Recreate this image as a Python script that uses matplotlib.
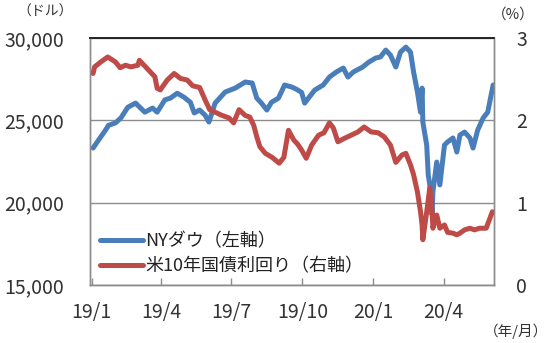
import pandas as pd
import matplotlib
matplotlib.use("Agg")
import matplotlib.pyplot as plt

plt.rcParams['font.family'] = ['Noto Sans CJK JP', 'DejaVu Sans']

# --------------------------------------------------------------
# Data
# --------------------------------------------------------------

dow_dates = [
    "2019-01-03", "2019-01-10", "2019-01-19", "2019-01-23", "2019-02-01",
    "2019-02-08", "2019-02-17", "2019-02-27", "2019-03-11", "2019-03-21",
    "2019-03-27", "2019-04-06", "2019-04-13", "2019-04-22", "2019-05-01",
    "2019-05-09", "2019-05-14", "2019-05-21", "2019-05-28", "2019-06-02",
    "2019-06-10", "2019-06-23", "2019-07-06", "2019-07-19", "2019-07-28",
    "2019-08-03", "2019-08-09", "2019-08-16", "2019-08-22", "2019-08-31",
    "2019-09-08", "2019-09-17", "2019-09-23", "2019-09-30", "2019-10-04",
    "2019-10-10", "2019-10-17", "2019-10-28", "2019-11-05", "2019-11-14",
    "2019-11-23", "2019-11-29", "2019-12-06", "2019-12-18", "2019-12-26",
    "2020-01-04", "2020-01-10", "2020-01-17", "2020-01-23", "2020-01-30",
    "2020-02-05", "2020-02-12", "2020-02-18", "2020-02-22", "2020-02-27",
    "2020-03-02", "2020-03-04", "2020-03-05", "2020-03-10", "2020-03-12",
    "2020-03-14", "2020-03-17", "2020-03-18", "2020-03-23", "2020-03-27",
    "2020-04-02", "2020-04-06", "2020-04-13", "2020-04-18", "2020-04-22",
    "2020-04-28", "2020-05-05", "2020-05-09", "2020-05-15", "2020-05-22",
    "2020-05-28", "2020-06-04",
]
dow_values = [
    23320, 23800, 24400, 24700, 24850,
    25150, 25800, 26050, 25500, 25750,
    25500, 26250, 26350, 26650, 26400,
    26100, 25450, 25630, 25320, 24900,
    26050, 26720, 26960, 27330, 27270,
    26350, 26050, 25630, 26100, 26350,
    27150, 27030, 26900, 26700, 26050,
    26420, 26840, 27150, 27630, 27940,
    28180, 27630, 27940, 28240, 28540,
    28790, 28850, 29270, 28970, 28240,
    29150, 29450, 29150, 27940, 26720,
    25500, 26960, 24900, 23500, 21680,
    21080, 19250, 20650, 22470, 21080,
    23500, 23690, 23930, 23080, 24110,
    24290, 23930, 23320, 24410, 25140,
    25500, 27150,
]

yield_dates = [
    "2019-01-03", "2019-01-05", "2019-01-13", "2019-01-22", "2019-02-01",
    "2019-02-07", "2019-02-14", "2019-02-21", "2019-03-02", "2019-03-04",
    "2019-03-12", "2019-03-18", "2019-03-24", "2019-03-27", "2019-03-31",
    "2019-04-09", "2019-04-18", "2019-04-26", "2019-05-05", "2019-05-12",
    "2019-05-21", "2019-05-28", "2019-06-03", "2019-06-10", "2019-06-19",
    "2019-06-28", "2019-07-04", "2019-07-11", "2019-07-19", "2019-07-25",
    "2019-07-30", "2019-08-03", "2019-08-07", "2019-08-14", "2019-08-23",
    "2019-09-01", "2019-09-07", "2019-09-13", "2019-09-20", "2019-09-25",
    "2019-09-30", "2019-10-06", "2019-10-13", "2019-10-22", "2019-10-29",
    "2019-11-05", "2019-11-10", "2019-11-16", "2019-11-24", "2019-12-03",
    "2019-12-12", "2019-12-20", "2019-12-29", "2020-01-07", "2020-01-15",
    "2020-01-23", "2020-01-30", "2020-02-07", "2020-02-12", "2020-02-18",
    "2020-02-22", "2020-02-27", "2020-03-02", "2020-03-04", "2020-03-05",
    "2020-03-10", "2020-03-14", "2020-03-17", "2020-03-18", "2020-03-23",
    "2020-03-27", "2020-04-02", "2020-04-06", "2020-04-13", "2020-04-18",
    "2020-04-22", "2020-04-28", "2020-05-05", "2020-05-11", "2020-05-17",
    "2020-05-26", "2020-06-03",
]
yield_values = [
    2.57, 2.65, 2.71, 2.77, 2.71,
    2.64, 2.67, 2.65, 2.67, 2.73,
    2.65, 2.59, 2.53, 2.39, 2.37,
    2.49, 2.57, 2.51, 2.49, 2.42,
    2.40, 2.25, 2.13, 2.10, 2.06,
    2.03, 1.97, 2.13, 2.06, 2.04,
    1.94, 1.80, 1.68, 1.60, 1.55,
    1.48, 1.55, 1.88, 1.76, 1.71,
    1.64, 1.54, 1.70, 1.82, 1.85,
    1.97, 1.91, 1.74, 1.78, 1.82,
    1.86, 1.92, 1.86, 1.85, 1.80,
    1.70, 1.49, 1.58, 1.60, 1.46,
    1.34, 1.13, 0.89, 0.73, 0.55,
    0.89, 1.18, 0.89, 0.69, 0.85,
    0.69, 0.73, 0.64, 0.63, 0.61,
    0.63, 0.67, 0.69, 0.67, 0.69,
    0.69, 0.89,
]

tick_dates = ["2019-01-01", "2019-04-01", "2019-07-01",
              "2019-10-01", "2020-01-01", "2020-04-01"]
tick_labels = ["19/1", "19/4", "19/7", "19/10", "20/1", "20/4"]

dow = pd.Series(dow_values, index=pd.to_datetime(dow_dates))
yld = pd.Series(yield_values, index=pd.to_datetime(yield_dates))

# --------------------------------------------------------------
# Plot
# --------------------------------------------------------------

blue = "#4A7EBB"
red = "#BE4B48"
grey = "#8C8C8C"
text_col = "#333333"

fig = plt.figure(figsize=(5.5, 3.43), dpi=100)
ax = fig.add_axes([0.1636, 0.169, 0.7344, 0.72])
ax2 = ax.twinx()

l1, = ax.plot(dow.index, dow.values, color=blue, lw=3.6,
              solid_capstyle="round", solid_joinstyle="round",
              label="NYダウ（左軸）")
l2, = ax2.plot(yld.index, yld.values, color=red, lw=3.6,
               solid_capstyle="round", solid_joinstyle="round",
               label="米10年国債利回り（右軸）")

ax.set_ylim(15000, 30000)
ax.set_yticks([15000, 20000, 25000, 30000])
ax.set_yticklabels(["15,000", "20,000", "25,000", "30,000"])
ax2.set_ylim(0, 3)
ax2.set_yticks([0, 1, 2, 3])

ax.set_xlim(pd.Timestamp("2018-12-30"), pd.Timestamp("2020-06-05"))
ax.set_xticks(pd.to_datetime(tick_dates))
ax.set_xticklabels(tick_labels)

for a in (ax, ax2):
    for side in ("left", "right", "bottom"):
        a.spines[side].set_color(grey)
        a.spines[side].set_linewidth(1.0)
    a.spines["top"].set_color("#222222")
    a.spines["top"].set_linewidth(1.2)

ax.grid(axis="y", color=grey, lw=1.0)
ax.set_axisbelow(True)

ax.tick_params(axis="x", direction="in", length=5, width=1, color=grey,
               labelsize=14, pad=12, labelcolor=text_col)
ax.tick_params(axis="y", length=0, labelsize=14, pad=18.5, labelcolor=text_col)
ax2.tick_params(axis="y", length=0, labelsize=14, pad=16, labelcolor=text_col)

fig.text(0.082, 0.965, "（ドル）", fontsize=10, color=text_col,
         ha="center", va="center")
fig.text(0.933, 0.957, "（%）", fontsize=10.5, color=text_col,
         ha="center", va="center")
fig.text(0.997, 0.035, "（年/月）", fontsize=10.5, color=text_col,
         ha="right", va="center")

leg = ax2.legend(handles=[l1, l2], loc="lower left",
                 bbox_to_anchor=(0.0, 0.0), frameon=False,
                 fontsize=13, handlelength=2.4, handletextpad=0.1,
                 labelspacing=0.4, borderaxespad=0.15)
for t in leg.get_texts():
    t.set_color("#222222")

plt.savefig("out.png", dpi=100)
